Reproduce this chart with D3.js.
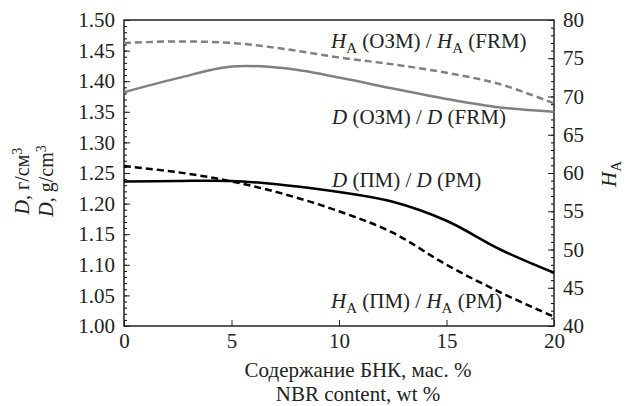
<!DOCTYPE html>
<html>
<head>
<meta charset="utf-8">
<script src="https://cdn.jsdelivr.net/npm/d3@7"></script>
</head>
<body style="margin:0;background:#fff">
<div id="canvas"></div>
<script>
// data
var nbr = [0, 2.5, 5, 7.5, 10, 12.5, 15, 17.5, 20];
var dOzm = [1.382, 1.405, 1.424, 1.421, 1.406, 1.388, 1.371, 1.357, 1.350];   // left axis
var haOzm = [77.0, 77.2, 77.0, 76.2, 75.1, 74.2, 73.1, 71.6, 69.1];          // right axis
var dPm = [1.236, 1.237, 1.237, 1.230, 1.219, 1.203, 1.172, 1.125, 1.087];    // left axis
var haPm = [60.9, 60.1, 58.9, 57.2, 55.0, 52.2, 48.0, 44.4, 41.2];           // right axis
var xTicks = [0, 5, 10, 15, 20];
var leftTicks = [1.00, 1.05, 1.10, 1.15, 1.20, 1.25, 1.30, 1.35, 1.40, 1.45, 1.50];
var rightTicks = [40, 45, 50, 55, 60, 65, 70, 75, 80];

var FONT = "Liberation Serif";

// set the dimensions and margins
var W = 628, H = 406;
var margin = {top: 20, right: 74, bottom: 80, left: 124};
var width = W - margin.left - margin.right,
    height = H - margin.top - margin.bottom;

var svg = d3.select("#canvas").append("svg")
  .attr("width", W).attr("height", H)
  .attr("font-family", FONT);
var g = svg.append("g")
  .attr("transform", "translate(" + margin.left + "," + margin.top + ")");

var x = d3.scaleLinear().domain([0, 20]).range([0, width]);
var yL = d3.scaleLinear().domain([1.0, 1.5]).range([height, 0]);
var yR = d3.scaleLinear().domain([40, 80]).range([height, 0]);

// minor ticks
g.append("g")
  .call(d3.axisRight(yL).tickValues(d3.range(100, 151).map(function(v) { return v / 100; }))
    .tickSize(3).tickFormat(""))
  .call(function(s) { s.select(".domain").remove(); });
g.append("g").attr("transform", "translate(" + width + ",0)")
  .call(d3.axisLeft(yR).tickValues(d3.range(40, 81)).tickSize(3).tickFormat(""))
  .call(function(s) { s.select(".domain").remove(); });

// major ticks + labels
var axL = g.append("g")
  .call(d3.axisLeft(yL).tickValues(leftTicks).tickSizeInner(-6).tickSizeOuter(0)
    .tickPadding(9).tickFormat(d3.format(".2f")));
var axR = g.append("g").attr("transform", "translate(" + width + ",0)")
  .call(d3.axisRight(yR).tickValues(rightTicks).tickSizeInner(-6).tickSizeOuter(0)
    .tickPadding(9));
var axB = g.append("g").attr("transform", "translate(0," + height + ")")
  .call(d3.axisBottom(x).tickValues(xTicks).tickSizeInner(-6).tickSizeOuter(0).tickPadding(7));

[axL, axR, axB].forEach(function(a) {
  a.attr("font-family", FONT).attr("font-size", 21);
  a.selectAll("line").attr("stroke", "#222");
  a.select(".domain").remove();
});

// frame
g.append("rect").attr("width", width).attr("height", height)
  .attr("fill", "none").attr("stroke", "#222").attr("stroke-width", 1.5);

// curves
var pts = function(arr) { return nbr.map(function(v, i) { return [v, arr[i]]; }); };
var lineL = d3.line().curve(d3.curveCatmullRom.alpha(0.5))
  .x(function(d) { return x(d[0]); }).y(function(d) { return yL(d[1]); });
var lineR = d3.line().curve(d3.curveCatmullRom.alpha(0.5))
  .x(function(d) { return x(d[0]); }).y(function(d) { return yR(d[1]); });

var series = [
  {d: lineR(pts(haOzm)), color: "#808080", dash: "7,4"},
  {d: lineL(pts(dOzm)), color: "#808080", dash: null},
  {d: lineL(pts(dPm)), color: "#000", dash: null},
  {d: lineR(pts(haPm)), color: "#000", dash: "7,4"}
];
g.selectAll(".curve").data(series).enter().append("path")
  .attr("class", "curve")
  .attr("d", function(d) { return d.d; })
  .attr("fill", "none")
  .attr("stroke", function(d) { return d.color; })
  .attr("stroke-width", 2.5)
  .attr("stroke-dasharray", function(d) { return d.dash; });

// curve labels
function label(xp, yp, parts) {
  var t = svg.append("text").attr("x", xp).attr("y", yp).attr("font-size", 21);
  parts.forEach(function(p) {
    var ts = t.append("tspan").text(p.t);
    if (p.i) ts.attr("font-style", "italic");
    if (p.sub) ts.attr("dy", 5).attr("font-size", 15);
    if (p.back) ts.attr("dy", -5);
  });
}
label(331, 48, [{t: "H", i: 1}, {t: "A", sub: 1}, {t: " (ОЗМ) / ", back: 1}, {t: "H", i: 1}, {t: "A", sub: 1}, {t: " (FRM)", back: 1}]);
label(332, 124, [{t: "D", i: 1}, {t: " (ОЗМ) / "}, {t: "D", i: 1}, {t: " (FRM)"}]);
label(332, 187, [{t: "D", i: 1}, {t: " (ПМ) / "}, {t: "D", i: 1}, {t: " (РМ)"}]);
label(331, 308, [{t: "H", i: 1}, {t: "A", sub: 1}, {t: " (ПМ) / ", back: 1}, {t: "H", i: 1}, {t: "A", sub: 1}, {t: " (РМ)", back: 1}]);

// axis titles
svg.append("text").attr("x", 358).attr("y", 377).attr("text-anchor", "middle")
  .attr("font-size", 21).text("Содержание БНК, мас. %");
svg.append("text").attr("x", 358).attr("y", 401).attr("text-anchor", "middle")
  .attr("font-size", 21).text("NBR content, wt %");

function yTitle(xp, unit) {
  var t = svg.append("text").attr("transform", "translate(" + xp + ",181) rotate(-90)")
    .attr("text-anchor", "middle").attr("font-size", 20);
  t.append("tspan").attr("font-style", "italic").text("D");
  t.append("tspan").text(", " + unit);
  t.append("tspan").attr("dy", -7).attr("font-size", 14).text("3");
}
yTitle(29, "г/см");
yTitle(53, "g/cm");

var rt = svg.append("text").attr("transform", "translate(616,174) rotate(-90)")
  .attr("text-anchor", "middle").attr("font-size", 21);
rt.append("tspan").attr("font-style", "italic").text("H");
rt.append("tspan").attr("dy", 5).attr("font-size", 15).text("A");

svg.selectAll("text").attr("fill", "#222").attr("font-family", FONT);
</script>
</body>
</html>
